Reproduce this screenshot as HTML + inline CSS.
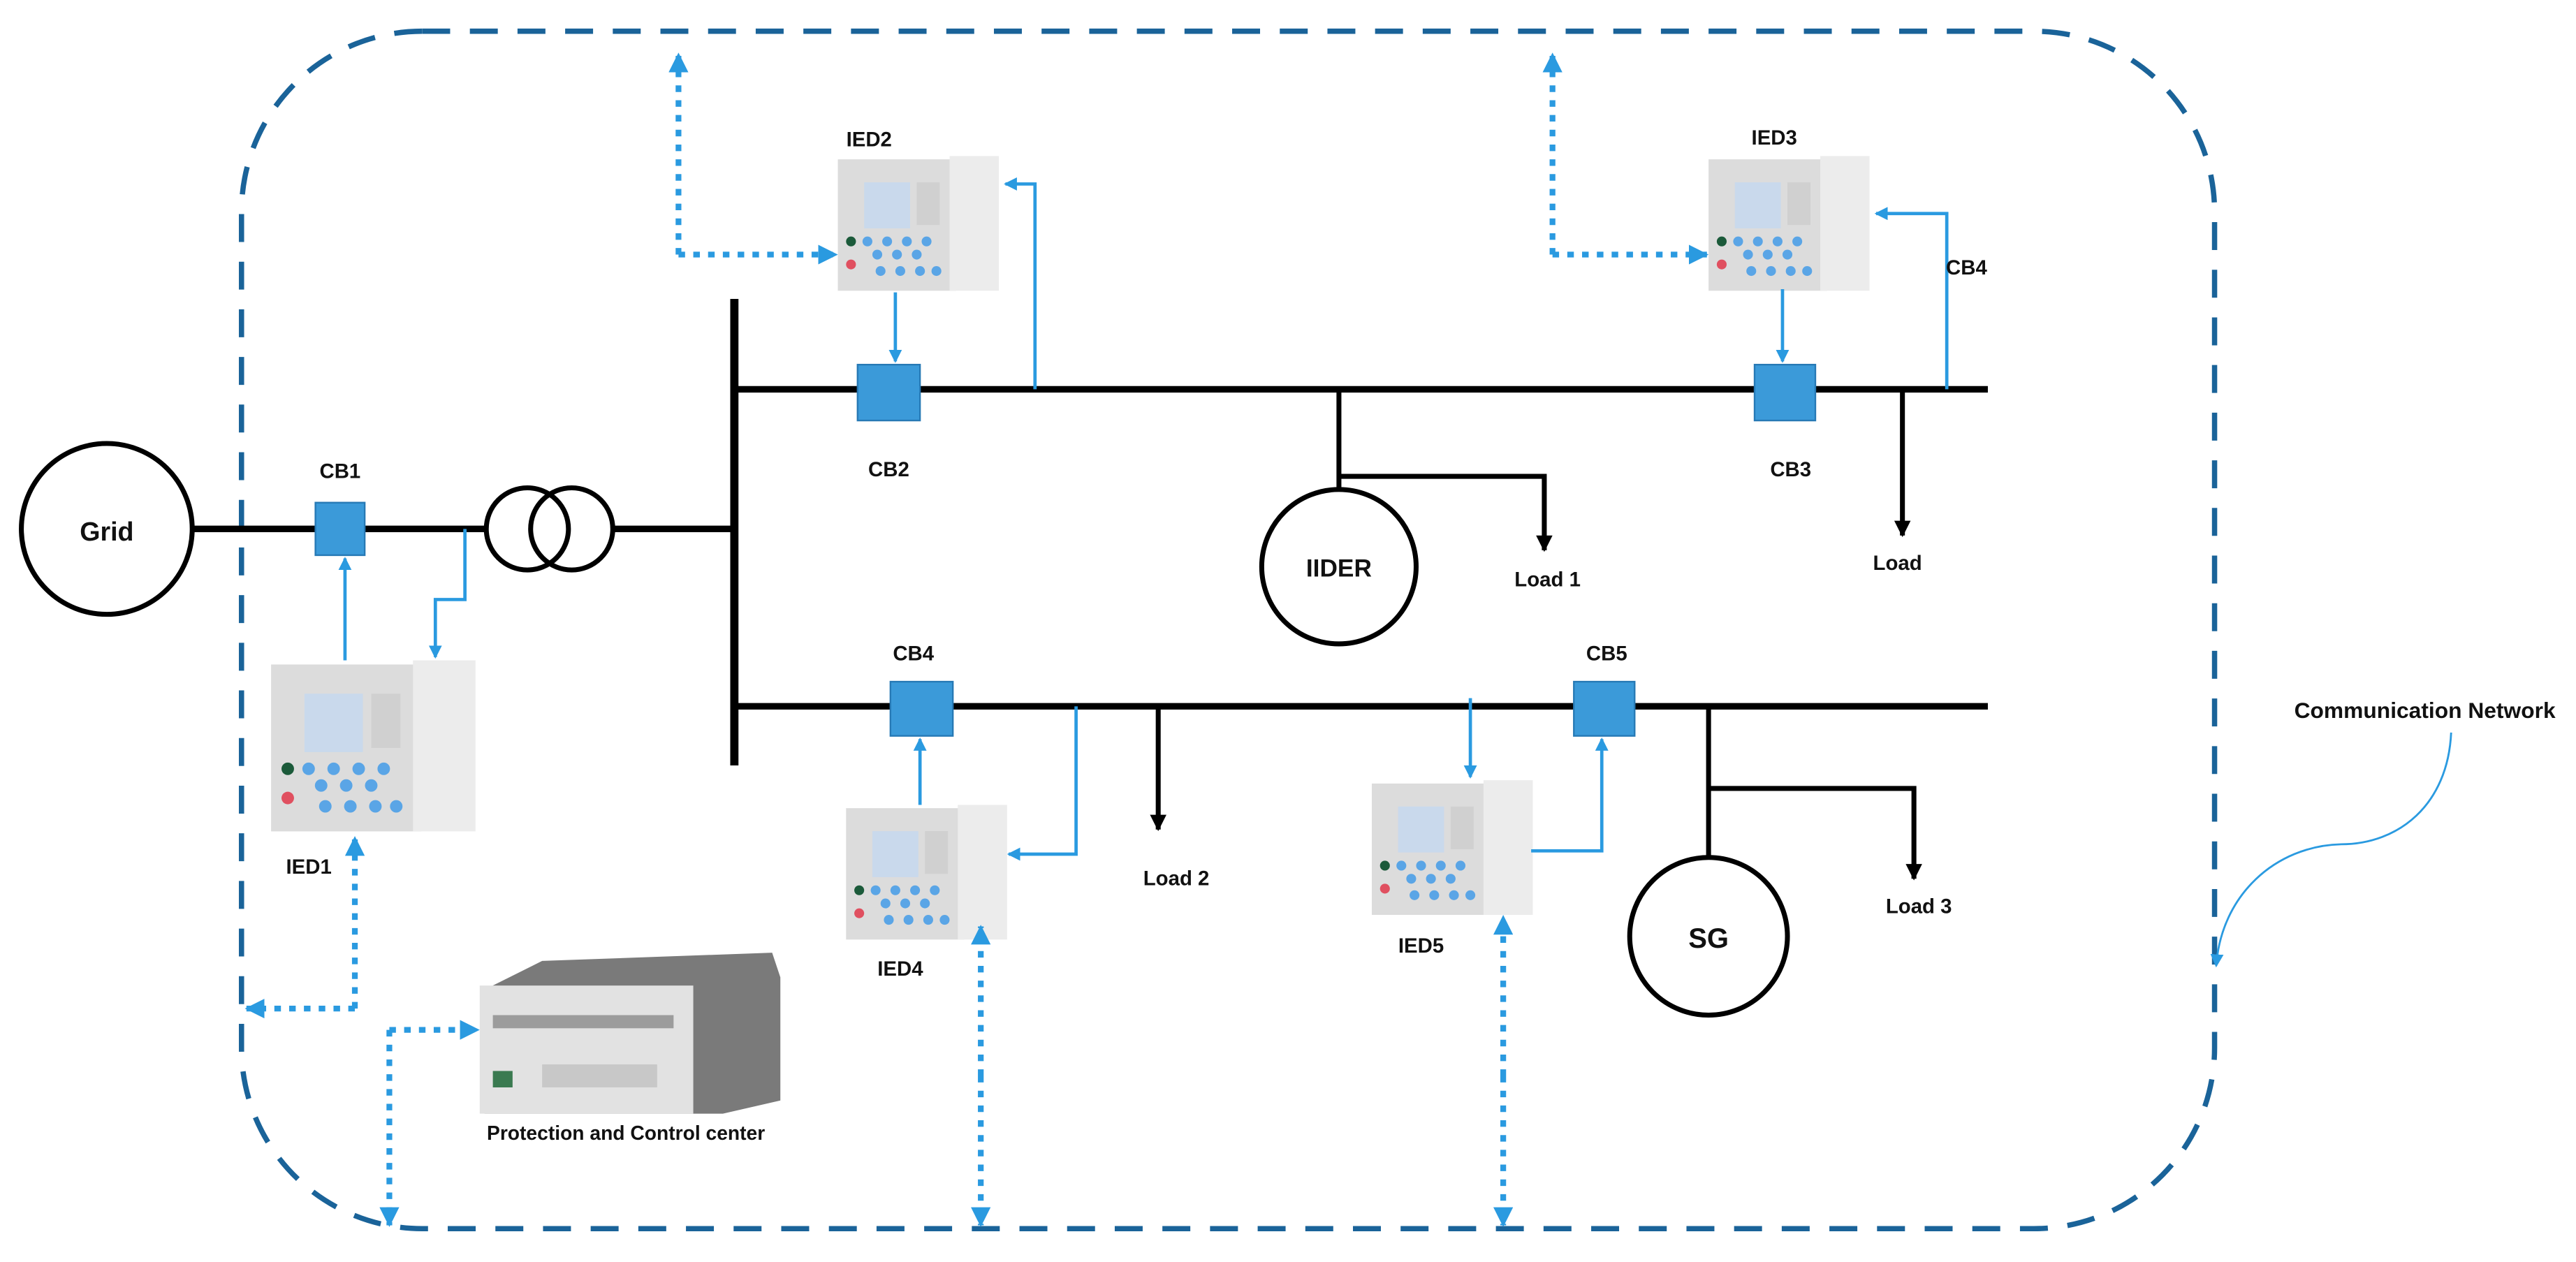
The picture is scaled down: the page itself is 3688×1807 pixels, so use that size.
<!DOCTYPE html>
<html><head><meta charset="utf-8"><style>
html,body{margin:0;padding:0;background:#fff}
svg{display:block}
text{font-family:"Liberation Sans",sans-serif;font-weight:bold;fill:#111}
</style></head><body>
<svg width="3688" height="1807" viewBox="0 0 1568 768.3" preserveAspectRatio="none" xmlns="http://www.w3.org/2000/svg">
<defs>
<marker id="ab" markerWidth="8" markerHeight="8" refX="7" refY="4" orient="auto" markerUnits="userSpaceOnUse"><path d="M0,0 L8,4 L0,8z" fill="#2a9ae0"/></marker>
<marker id="ad" markerWidth="12" markerHeight="12" refX="11" refY="6" orient="auto" markerUnits="userSpaceOnUse"><path d="M0,0 L12,6 L0,12z" fill="#2a9ae0"/></marker>
<marker id="ak" markerWidth="10" markerHeight="10" refX="9" refY="5" orient="auto" markerUnits="userSpaceOnUse"><path d="M0,0 L10,5 L0,10z" fill="#000"/></marker>
<g id="ied">
<rect x="0" y="2" width="72" height="80" fill="#dcdcdc"/>
<rect x="68" y="0" width="30" height="82" fill="#ececec"/>
<rect x="16" y="16" width="28" height="28" fill="#c9d9ec"/>
<rect x="48" y="16" width="14" height="26" fill="#d0d0d0"/>
<circle cx="8" cy="52" r="3" fill="#1b5a3a"/><circle cx="8" cy="66" r="3" fill="#e05060"/>
<g fill="#5aa5e6"><circle cx="18" cy="52" r="3"/><circle cx="30" cy="52" r="3"/><circle cx="42" cy="52" r="3"/><circle cx="54" cy="52" r="3"/><circle cx="24" cy="60" r="3"/><circle cx="36" cy="60" r="3"/><circle cx="48" cy="60" r="3"/><circle cx="26" cy="70" r="3"/><circle cx="38" cy="70" r="3"/><circle cx="50" cy="70" r="3"/><circle cx="60" cy="70" r="3"/></g>
</g>
</defs>
<rect x="147" y="19" width="1201" height="729" rx="110" fill="none" stroke="#1a6399" stroke-width="3.2" stroke-dasharray="17,12"/>

<!-- power lines -->
<g stroke="#000" stroke-width="4" fill="none">
<circle cx="65" cy="322" r="52" stroke-width="3"/>
<line x1="117" y1="322" x2="296" y2="322"/>
<circle cx="321" cy="322" r="25" stroke-width="3"/>
<circle cx="348" cy="322" r="25" stroke-width="3"/>
<line x1="373" y1="322" x2="447" y2="322"/>
<line x1="447" y1="182" x2="447" y2="466" stroke-width="5"/>
<line x1="447" y1="237" x2="1210" y2="237"/>
<line x1="447" y1="430" x2="1210" y2="430"/>
<line x1="815" y1="237" x2="815" y2="298" stroke-width="3"/>
<circle cx="815" cy="345" r="47" stroke-width="3"/>
<polyline points="815,290 940,290 940,335" stroke-width="3" marker-end="url(#ak)"/>
<line x1="1158" y1="237" x2="1158" y2="326" stroke-width="3" marker-end="url(#ak)"/>
<line x1="705" y1="430" x2="705" y2="505" stroke-width="3" marker-end="url(#ak)"/>
<line x1="1040" y1="430" x2="1040" y2="522" stroke-width="3"/>
<circle cx="1040" cy="570" r="48" stroke-width="3"/>
<polyline points="1040,480 1165,480 1165,535" stroke-width="3" marker-end="url(#ak)"/>
</g>
<!-- CBs -->
<g fill="#3b9ad9" stroke="#2679b5" stroke-width="1">
<rect x="192" y="306" width="30" height="32"/>
<rect x="522" y="222" width="38" height="34"/>
<rect x="1068" y="222" width="37" height="34"/>
<rect x="542" y="415" width="38" height="33"/>
<rect x="958" y="415" width="37" height="33"/>
</g>
<!-- IEDs -->
<use href="#ied" transform="translate(165,402) scale(1.27)"/>
<use href="#ied" transform="translate(510,95)"/>
<use href="#ied" transform="translate(1040,95)"/>
<use href="#ied" transform="translate(515,490)"/>
<use href="#ied" transform="translate(835,475)"/>
<!-- control center -->
<g>
<polygon points="300,600 330,585 470,580 475,595 475,670 440,678 295,678" fill="#7a7a7a"/>
<rect x="292" y="600" width="130" height="78" fill="#e2e2e2"/>
<rect x="300" y="618" width="110" height="8" fill="#555" opacity=".5"/>
<rect x="330" y="648" width="70" height="14" fill="#c8c8c8"/>
<rect x="300" y="652" width="12" height="10" fill="#3a7a50"/>
</g>
<!-- solid blue connectors -->
<g stroke="#2a9ae0" stroke-width="2" fill="none">
<line x1="210" y1="402" x2="210" y2="340" marker-end="url(#ab)"/>
<polyline points="283,322 283,365 265,365 265,400" marker-end="url(#ab)"/>
<line x1="545" y1="178" x2="545" y2="220" marker-end="url(#ab)"/>
<polyline points="630,237 630,112 612,112" marker-end="url(#ab)"/>
<line x1="1085" y1="176" x2="1085" y2="220" marker-end="url(#ab)"/>
<polyline points="1185,237 1185,130 1142,130" marker-end="url(#ab)"/>
<line x1="560" y1="490" x2="560" y2="450" marker-end="url(#ab)"/>
<polyline points="655,430 655,520 614,520" marker-end="url(#ab)"/>
<line x1="895" y1="425" x2="895" y2="473" marker-end="url(#ab)"/>
<polyline points="932,518 975,518 975,450" marker-end="url(#ab)"/>
<path d="M1492,446 C1490,490 1460,514 1425,514 C1385,515 1352,545 1349,588" stroke-width="1.2" marker-end="url(#ab)"/>
</g>
<!-- dotted blue -->
<g stroke="#2a9ae0" stroke-width="3.5" fill="none" stroke-dasharray="4,5">
<polyline points="413,155 413,33" marker-end="url(#ad)"/>
<polyline points="413,155 509,155" marker-end="url(#ad)"/>
<polyline points="945,155 945,33" marker-end="url(#ad)"/>
<polyline points="945,155 1039,155" marker-end="url(#ad)"/>
<polyline points="216,614 216,510" marker-end="url(#ad)"/>
<polyline points="216,614 150,614" marker-end="url(#ad)"/>
<polyline points="237,627 237,746" marker-end="url(#ad)"/>
<polyline points="237,627 291,627" marker-end="url(#ad)"/>
<polyline points="597,655 597,564" marker-end="url(#ad)"/>
<polyline points="597,655 597,746" marker-end="url(#ad)"/>
<polyline points="915,655 915,558" marker-end="url(#ad)"/>
<polyline points="915,655 915,746" marker-end="url(#ad)"/>
</g>
<!-- labels -->
<g font-size="12.5">
<text x="65" y="329" font-size="16" text-anchor="middle">Grid</text>
<text x="207" y="291" text-anchor="middle">CB1</text>
<text x="541" y="290" text-anchor="middle">CB2</text>
<text x="1090" y="290" text-anchor="middle">CB3</text>
<text x="1197" y="167" text-anchor="middle">CB4</text>
<text x="556" y="402" text-anchor="middle">CB4</text>
<text x="978" y="402" text-anchor="middle">CB5</text>
<text x="529" y="89" text-anchor="middle">IED2</text>
<text x="1080" y="88" text-anchor="middle">IED3</text>
<text x="188" y="532" text-anchor="middle">IED1</text>
<text x="548" y="594" text-anchor="middle">IED4</text>
<text x="865" y="580" text-anchor="middle">IED5</text>
<text x="815" y="351" font-size="15" text-anchor="middle">IIDER</text>
<text x="1040" y="577" font-size="17" text-anchor="middle">SG</text>
<text x="942" y="357" text-anchor="middle">Load 1</text>
<text x="1155" y="347" text-anchor="middle">Load</text>
<text x="716" y="539" text-anchor="middle">Load 2</text>
<text x="1168" y="556" text-anchor="middle">Load 3</text>
<text x="381" y="694" text-anchor="middle" font-size="12">Protection and Control center</text>
<text x="1476" y="437" text-anchor="middle" font-size="13.5">Communication Network</text>
</g>
</svg>
</body></html>
